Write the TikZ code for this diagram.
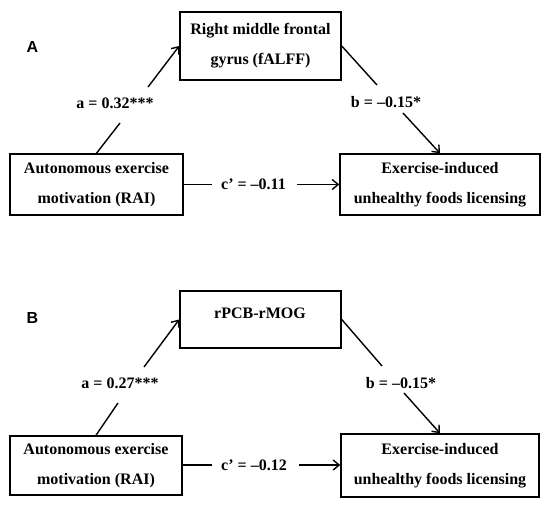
\documentclass[tikz,border=0pt]{standalone}
\usepackage{fontspec}
\setmainfont{Liberation Serif}
\newfontfamily\labfont{Liberation Sans}
\usetikzlibrary{arrows.meta}
\begin{document}
\begin{tikzpicture}[x=1pt,y=-1pt,
  box/.style={draw, line width=1.5pt, inner sep=0pt, align=center, font=\bfseries\fontsize{16}{30}\selectfont},
  lab/.style={inner sep=0pt, font=\bfseries\fontsize{16}{18}\selectfont},
  conn/.style={line width=1.4pt},
  arr/.style={line width=1.4pt, -{Straight Barb[length=6pt,width=10pt]}},
  panel/.style={inner sep=0pt, font=\labfont\bfseries\fontsize{16}{18}\selectfont}]
\useasboundingbox (0,0) rectangle (550,506);
% ---------------- Panel A ----------------
\node[panel] (pA) at (32.5,46.5) {A};
\node[box, minimum width=161pt, minimum height=68pt] (mA) at (260.5,46) {Right middle frontal\\gyrus (fALFF)};
\node[box, minimum width=173pt, minimum height=61pt] (lA) at (96.5,184.5) {Autonomous exercise\\motivation (RAI)};
\node[box, minimum width=200pt, minimum height=61pt] (rA) at (440,184.5) {Exercise-induced\\unhealthy foods licensing};
\node[lab] (laA) at (115,103) {a = 0.32***};
\node[lab] (lbA) at (386,102) {b = –0.15*};
\node[lab] (lcA) at (253.5,184.5) {c’ = –0.11};
\coordinate (a1A) at (120,123);
\coordinate (a2A) at (148,87);
\coordinate (b1A) at (377,85);
\coordinate (b2A) at (403,113);
\coordinate (c1A) at (212,184.5);
\coordinate (c2A) at (297,184.5);
\draw[conn] (lA.north) -- (a1A);
\draw[arr] (a2A) -- (mA.west);
\draw[conn] (mA.east) -- (b1A);
\draw[arr] (b2A) -- (rA.north);
\draw[conn] (lA.east) -- (c1A);
\draw[arr] (c2A) -- (rA.west);
% ---------------- Panel B ----------------
\node[panel] (pB) at (32.5,317.5) {B};
\node[box, minimum width=161pt, minimum height=57pt] (mB) at (260.5,319.5) {};
\node[lab] (mBt) at (260,313) {rPCB-rMOG};
\node[box, minimum width=172pt, minimum height=59pt] (lB) at (96,465.5) {Autonomous exercise\\motivation (RAI)};
\node[box, minimum width=198pt, minimum height=63pt] (rB) at (440,465.5) {Exercise-induced\\unhealthy foods licensing};
\node[lab] (laB) at (120,383) {a = 0.27***};
\node[lab] (lbB) at (401,383) {b = –0.15*};
\node[lab] (lcB) at (254,465) {c’ = –0.12};
\coordinate (a1B) at (118,403);
\coordinate (a2B) at (144,367);
\coordinate (b1B) at (382,366);
\coordinate (b2B) at (404,393);
\coordinate (c1B) at (212,465);
\coordinate (c2B) at (299,465);
\draw[conn] (lB.north) -- (a1B);
\draw[arr] (a2B) -- (mB.west);
\draw[conn] (mB.east) -- (b1B);
\draw[arr] (b2B) -- (rB.north);
\draw[conn] (lB.east |- c1B) -- (c1B);
\draw[arr] (c2B) -- (rB.west |- c2B);
\end{tikzpicture}
\end{document}
